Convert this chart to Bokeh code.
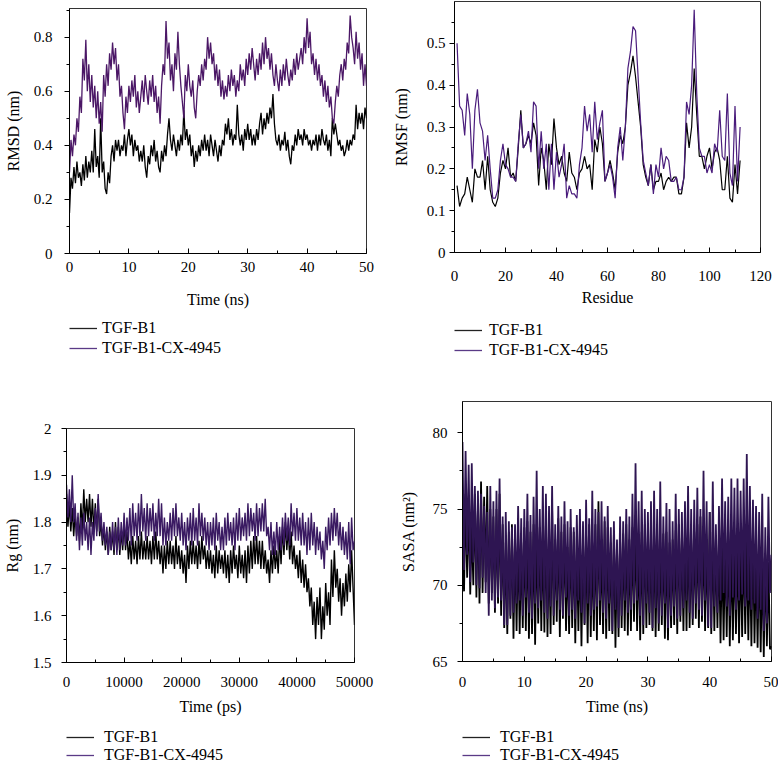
import numpy as np
from bokeh.plotting import figure
from bokeh.layouts import column, row
from bokeh.models import Legend, LegendItem, FixedTicker, Range1d
from bokeh.embed import file_html
from bokeh.resources import INLINE

FONT = "Liberation Serif"
series_names = ["TGF-B1", "TGF-B1-CX-4945"]

# ---------------- RMSD (nm) vs time (ns), sampled every 0.25 ns ----------------
rmsd_apo = [0.15,0.28,0.24,0.32, 0.26,0.34,0.28,0.30, 0.25,0.33,0.27,0.36, 0.28,0.34,0.30,0.38,
            0.30,0.46,0.32,0.36, 0.28,0.50,0.30,0.34, 0.24,0.22,0.30,0.26, 0.36,0.40,0.34,0.42,
            0.38,0.42,0.36,0.40, 0.38,0.44,0.36,0.42, 0.46,0.40,0.44,0.36, 0.42,0.38,0.40,0.34,
            0.38,0.34,0.40,0.32, 0.28,0.36,0.33,0.40, 0.36,0.42,0.34,0.38, 0.32,0.30,0.38,0.34,
            0.40,0.36,0.44,0.50, 0.42,0.38,0.44,0.40, 0.36,0.42,0.38,0.44, 0.40,0.53,0.42,0.46,
            0.40,0.44,0.36,0.40, 0.32,0.38,0.34,0.40, 0.36,0.42,0.38,0.44, 0.38,0.42,0.36,0.44,
            0.40,0.36,0.42,0.38, 0.34,0.40,0.36,0.42, 0.40,0.48,0.44,0.50, 0.42,0.46,0.40,0.44,
            0.42,0.55,0.44,0.40, 0.44,0.38,0.46,0.42, 0.48,0.42,0.46,0.40, 0.44,0.40,0.46,0.42,
            0.48,0.52,0.44,0.50, 0.46,0.52,0.48,0.54, 0.50,0.59,0.48,0.42, 0.40,0.44,0.38,0.42,
            0.40,0.45,0.38,0.42, 0.36,0.33,0.40,0.38, 0.44,0.40,0.46,0.42, 0.44,0.40,0.46,0.42,
            0.44,0.40,0.42,0.38, 0.42,0.40,0.44,0.38, 0.44,0.40,0.46,0.42, 0.40,0.44,0.38,0.42,
            0.36,0.50,0.44,0.48, 0.44,0.40,0.42,0.38, 0.40,0.36,0.38,0.42, 0.38,0.42,0.40,0.44,
            0.42,0.55,0.46,0.52, 0.48,0.52,0.46,0.54, 0.50]
rmsd_cx = [0.30,0.42,0.36,0.44, 0.40,0.50,0.45,0.58, 0.52,0.72,0.64,0.79, 0.60,0.70,0.56,0.66,
           0.54,0.62,0.50,0.60, 0.48,0.56,0.45,0.66, 0.58,0.70,0.62,0.74, 0.68,0.78,0.70,0.76,
           0.64,0.70,0.58,0.62, 0.52,0.46,0.58,0.52, 0.62,0.56,0.64,0.58, 0.66,0.54,0.60,0.52,
           0.58,0.64,0.56,0.66, 0.60,0.55,0.64,0.58, 0.66,0.56,0.62,0.52, 0.58,0.48,0.62,0.70,
           0.66,0.86,0.72,0.78, 0.64,0.70,0.60,0.74, 0.68,0.82,0.70,0.62, 0.56,0.50,0.66,0.60,
           0.70,0.62,0.58,0.64, 0.54,0.50,0.60,0.66, 0.62,0.70,0.64,0.72, 0.68,0.80,0.72,0.78,
           0.70,0.74,0.64,0.70, 0.62,0.68,0.58,0.64, 0.57,0.62,0.58,0.66, 0.60,0.68,0.62,0.66,
           0.58,0.64,0.60,0.70, 0.64,0.68,0.62,0.72, 0.66,0.74,0.68,0.76, 0.70,0.64,0.72,0.66,
           0.74,0.68,0.78,0.70, 0.80,0.72,0.76,0.68, 0.74,0.66,0.62,0.70, 0.64,0.60,0.68,0.62,
           0.70,0.64,0.72,0.66, 0.62,0.68,0.64,0.72, 0.66,0.74,0.68,0.72, 0.76,0.70,0.80,0.74,
           0.87,0.76,0.82,0.70, 0.74,0.66,0.72,0.64, 0.70,0.62,0.66,0.58, 0.64,0.56,0.62,0.54,
           0.58,0.50,0.48,0.56, 0.62,0.58,0.66,0.70, 0.64,0.72,0.68,0.78, 0.74,0.88,0.80,0.76,
           0.70,0.82,0.72,0.78, 0.68,0.74,0.62,0.70, 0.62]

# ---------------- RMSF (nm) per residue 1..112 ----------------
rmsf_apo = [0.16,0.11,0.13,0.14,0.18,0.15,0.12,0.20,0.18,0.18,
            0.22,0.15,0.23,0.15,0.12,0.11,0.13,0.19,0.22,0.20,
            0.25,0.18,0.19,0.17,0.25,0.34,0.25,0.26,0.28,0.26,
            0.31,0.28,0.16,0.25,0.22,0.15,0.26,0.21,0.32,0.25,
            0.21,0.23,0.19,0.17,0.24,0.19,0.18,0.15,0.19,0.20,
            0.23,0.20,0.21,0.15,0.27,0.24,0.30,0.26,0.17,0.19,
            0.22,0.19,0.15,0.24,0.28,0.26,0.30,0.40,0.43,0.47,
            0.42,0.36,0.30,0.21,0.18,0.16,0.21,0.15,0.17,0.17,
            0.19,0.15,0.17,0.18,0.17,0.18,0.18,0.14,0.14,0.18,
            0.31,0.25,0.30,0.44,0.33,0.23,0.23,0.20,0.23,0.25,
            0.20,0.24,0.25,0.22,0.15,0.15,0.23,0.13,0.12,0.21,
            0.14,0.22]
rmsf_cx = [0.50,0.35,0.34,0.28,0.38,0.33,0.20,0.34,0.39,0.31,
           0.29,0.22,0.28,0.20,0.13,0.13,0.15,0.22,0.26,0.21,
           0.20,0.18,0.18,0.17,0.26,0.33,0.25,0.26,0.29,0.24,
           0.36,0.35,0.20,0.29,0.20,0.26,0.15,0.26,0.15,0.24,
           0.18,0.21,0.26,0.13,0.16,0.14,0.14,0.13,0.21,0.25,
           0.35,0.29,0.33,0.24,0.36,0.27,0.31,0.34,0.17,0.19,
           0.21,0.18,0.13,0.25,0.30,0.22,0.30,0.44,0.48,0.54,
           0.53,0.42,0.31,0.22,0.19,0.16,0.21,0.14,0.21,0.18,
           0.25,0.20,0.23,0.22,0.17,0.17,0.18,0.15,0.15,0.18,
           0.36,0.33,0.40,0.58,0.38,0.25,0.23,0.23,0.19,0.21,
           0.19,0.26,0.24,0.34,0.23,0.22,0.38,0.19,0.16,0.35,
           0.17,0.30]

# ---------------- Rg (nm) vs time (ps), sampled every 250 ps ----------------
rg_apo = [1.86,1.79,1.84,1.78, 1.83,1.77,1.82,1.77, 1.81,1.76,1.84,1.78, 1.87,1.80,1.85,1.80,
          1.86,1.79,1.85,1.78, 1.84,1.78,1.85,1.77, 1.80,1.75,1.79,1.74, 1.78,1.73,1.79,1.74,
          1.78,1.73,1.80,1.74, 1.79,1.73,1.78,1.74, 1.80,1.74,1.78,1.72, 1.76,1.71,1.77,1.72,
          1.76,1.71,1.77,1.72, 1.78,1.72,1.76,1.72, 1.77,1.72,1.76,1.71, 1.77,1.72,1.78,1.72,
          1.76,1.71,1.75,1.69, 1.75,1.70,1.76,1.71, 1.76,1.71,1.75,1.70, 1.77,1.71,1.75,1.70,
          1.74,1.69,1.73,1.67, 1.75,1.70,1.76,1.71, 1.76,1.71,1.75,1.70, 1.76,1.71,1.77,1.72,
          1.75,1.70,1.74,1.70, 1.74,1.69,1.73,1.68, 1.75,1.69,1.74,1.70, 1.73,1.69,1.74,1.68,
          1.73,1.67,1.74,1.69, 1.75,1.70,1.73,1.68, 1.75,1.69,1.73,1.68, 1.74,1.67,1.75,1.69,
          1.76,1.70,1.77,1.71, 1.77,1.71,1.76,1.70, 1.76,1.70,1.74,1.69, 1.72,1.67,1.74,1.69,
          1.75,1.70,1.74,1.69, 1.77,1.71,1.79,1.73, 1.80,1.74,1.79,1.72, 1.78,1.71,1.75,1.70,
          1.73,1.68,1.74,1.67, 1.72,1.66,1.71,1.65, 1.68,1.62,1.66,1.58, 1.63,1.55,1.64,1.58,
          1.66,1.55,1.62,1.57, 1.67,1.60,1.65,1.58, 1.72,1.64,1.74,1.66, 1.70,1.63,1.68,1.60,
          1.67,1.62,1.69,1.63, 1.71,1.65,1.74,1.66, 1.58]
rg_cx = [1.88,1.81,1.87,1.80, 1.90,1.80,1.84,1.76, 1.82,1.74,1.81,1.75, 1.82,1.76,1.80,1.74,
         1.81,1.73,1.80,1.76, 1.83,1.77,1.86,1.78, 1.82,1.76,1.80,1.75, 1.79,1.73,1.78,1.74,
         1.80,1.74,1.79,1.73, 1.81,1.74,1.80,1.75, 1.82,1.75,1.81,1.76, 1.83,1.75,1.84,1.77,
         1.82,1.76,1.84,1.77, 1.86,1.78,1.83,1.76, 1.84,1.77,1.83,1.78, 1.84,1.76,1.82,1.77,
         1.85,1.77,1.84,1.75, 1.81,1.75,1.80,1.76, 1.82,1.76,1.83,1.77, 1.84,1.77,1.81,1.76,
         1.82,1.75,1.80,1.74, 1.81,1.76,1.82,1.75, 1.83,1.76,1.81,1.75, 1.84,1.77,1.82,1.76,
         1.81,1.75,1.80,1.74, 1.80,1.75,1.81,1.74, 1.82,1.76,1.80,1.74, 1.79,1.74,1.81,1.75,
         1.82,1.76,1.80,1.75, 1.81,1.74,1.82,1.76, 1.83,1.76,1.81,1.77, 1.82,1.76,1.84,1.77,
         1.83,1.78,1.82,1.76, 1.84,1.77,1.83,1.78, 1.84,1.78,1.85,1.77, 1.79,1.74,1.80,1.73,
         1.78,1.73,1.80,1.74, 1.79,1.74,1.81,1.75, 1.82,1.76,1.81,1.75, 1.84,1.77,1.82,1.76,
         1.83,1.76,1.81,1.75, 1.82,1.75,1.80,1.73, 1.81,1.74,1.82,1.75, 1.80,1.73,1.79,1.74,
         1.78,1.72,1.76,1.70, 1.79,1.74,1.81,1.75, 1.82,1.76,1.83,1.77, 1.82,1.75,1.80,1.74,
         1.79,1.73,1.78,1.72, 1.80,1.71,1.81,1.74, 1.76]

# ---------------- SASA (nm^2) vs time (ns), sampled every 0.25 ns ----------------
sasa_apo = [72.0,69.6,76.0,70.5, 75.5,69.4,74.0,70.0, 76.0,69.2,75.2,68.8, 76.8,69.5,75.8,70.2,
            76.5,68.8,75.0,69.5, 74.5,68.2,75.0,68.8, 76.0,68.0,74.0,67.2, 72.8,66.8,73.5,67.8,
            74.0,66.5,73.2,67.0, 73.5,66.8,72.8,67.2, 73.8,67.0,74.2,66.5, 73.5,66.8,74.0,66.1,
            74.0,67.5,73.8,67.0, 73.5,66.9,74.2,66.6, 72.8,66.8,75.0,67.4, 73.0,67.6,74.4,66.6,
            73.5,67.8,74.0,67.0, 72.5,66.8,73.8,67.2, 73.5,66.2,73.2,67.0, 72.8,66.0,73.0,67.4,
            73.4,66.2,74.0,66.6, 72.8,67.0,74.0,66.4, 75.5,67.4,73.0,66.8, 74.2,66.5,73.8,67.0,
            72.8,66.8,73.5,65.9, 72.5,66.6,73.0,67.2, 73.4,67.0,74.0,66.7, 73.0,67.0,73.8,67.6,
            74.6,67.0,73.0,66.4, 73.5,66.8,74.0,67.2, 73.0,67.4,72.8,67.0, 73.5,66.6,73.0,67.0,
            72.8,67.4,73.4,66.5, 73.5,66.4,72.8,67.2, 73.0,67.4,73.6,66.8, 74.0,67.6,73.2,67.0,
            73.4,67.0,73.8,67.2, 73.0,67.4,73.5,67.8, 74.0,67.2,74.5,67.6, 73.8,67.0,73.0,67.2,
            74.8,66.8,73.5,67.0, 73.2,67.2,73.0,66.2, 72.8,66.4,73.0,66.6, 73.5,66.0,72.8,66.4,
            73.0,66.8,73.2,66.2, 72.8,66.6,73.4,66.8, 73.0,66.4,72.5,66.0, 73.4,66.2,72.0,65.9,
            72.5,65.6,71.8,65.3, 72.0,66.0,71.5,65.8, 66.0]
sasa_cx = [79.4,71.0,78.8,72.0, 77.9,70.2,78.0,71.5, 76.5,70.0,76.2,69.8, 76.0,70.5,75.2,69.5,
           74.8,68.0,76.5,69.0, 75.5,68.5,76.2,69.2, 77.0,69.0,74.5,67.4, 74.8,67.4,74.2,68.0,
           73.8,68.2,74.0,68.8, 75.2,69.0,74.4,68.0, 75.0,69.2,76.0,68.2, 74.6,67.8,75.8,68.8,
           77.5,68.5,75.0,69.0, 76.5,68.2,76.0,67.8, 75.2,68.6,76.5,68.0, 74.0,69.0,75.2,68.4,
           74.5,68.0,75.5,69.2, 74.2,68.0,75.0,68.4, 73.8,67.8,74.6,69.0, 75.0,68.2,74.2,67.5,
           75.6,68.8,74.4,68.0, 76.2,68.4,75.0,68.6, 74.8,69.0,75.5,68.2, 74.5,67.8,75.2,68.8,
           73.8,67.0,74.2,68.4, 73.0,67.2,74.5,68.0, 74.2,69.0,75.0,68.2, 74.5,68.4,76.0,68.8,
           78.0,69.0,75.5,68.0, 76.2,67.4,75.0,68.8, 74.8,68.2,75.5,67.2, 76.2,68.5,75.0,67.5,
           76.8,68.0,74.5,68.8, 75.4,67.2,75.0,68.0, 74.2,68.6,76.0,67.8, 75.0,68.0,74.8,68.5,
           75.5,69.0,76.5,68.2, 75.0,67.8,75.6,68.8, 76.4,68.4,75.0,68.0, 77.5,69.0,75.5,67.3,
           74.8,67.2,76.8,68.6, 74.0,68.2,75.2,69.0, 77.0,69.5,75.5,68.6, 75.8,68.0,77.0,69.2,
           76.4,68.4,77.0,69.0, 76.2,69.4,77.0,68.6, 78.6,69.0,76.5,68.4, 75.6,68.8,75.2,67.8,
           74.8,68.4,76.0,67.0, 73.8,67.5,75.8,69.5, 72.0]

# ---------------- axis ticks ----------------
rmsd_xt, rmsd_xm = [0, 10, 20, 30, 40, 50], [5, 15, 25, 35, 45]
rmsd_yt, rmsd_ym = [0, 0.2, 0.4, 0.6, 0.8], [0.1, 0.3, 0.5, 0.7, 0.9]
rmsf_xt, rmsf_xm = [0, 20, 40, 60, 80, 100, 120], [10, 30, 50, 70, 90, 110]
rmsf_yt, rmsf_ym = [0, 0.1, 0.2, 0.3, 0.4, 0.5], [0.05, 0.15, 0.25, 0.35, 0.45, 0.55]
rg_xt, rg_xm = [0, 10000, 20000, 30000, 40000, 50000], [5000, 15000, 25000, 35000, 45000]
rg_yt, rg_ym = [1.5, 1.6, 1.7, 1.8, 1.9, 2.0], [1.55, 1.65, 1.75, 1.85, 1.95]
sasa_xt, sasa_xm = [0, 10, 20, 30, 40, 50], [5, 15, 25, 35, 45]
sasa_yt, sasa_ym = [65, 70, 75, 80], [67.5, 72.5, 77.5]

BLACK = "#000000"


def panel(w, h, bl, br, bt, bb, xr, yr, xt, xm, yt, ym, xlab, ylab,
          yover, ystand, ylabstand, xstand, xlabstand):
    p = figure(width=w, height=h, x_range=Range1d(*xr), y_range=Range1d(*yr),
               output_backend="svg", toolbar_location=None,
               min_border_left=bl, min_border_right=br,
               min_border_top=bt, min_border_bottom=bb,
               background_fill_color="white", border_fill_color="white")
    p.xgrid.visible = False
    p.ygrid.visible = False
    p.outline_line_color = "#333333"
    p.outline_line_width = 1
    p.xaxis.ticker = FixedTicker(ticks=xt, minor_ticks=xm)
    p.yaxis.ticker = FixedTicker(ticks=yt, minor_ticks=ym)
    p.xaxis.axis_label = xlab
    p.yaxis.axis_label = ylab
    p.yaxis.major_label_overrides = yover
    p.xaxis.major_label_overrides = {0: "0"}
    for ax in (p.xaxis[0], p.yaxis[0]):
        ax.axis_line_color = BLACK
        ax.axis_line_width = 1
        ax.major_tick_line_color = BLACK
        ax.minor_tick_line_color = BLACK
        ax.axis_label_text_font = FONT
        ax.axis_label_text_font_style = "normal"
        ax.axis_label_text_font_size = "16px"
        ax.axis_label_text_color = BLACK
        ax.major_label_text_font = FONT
        ax.major_label_text_font_size = "15px"
        ax.major_label_text_color = BLACK
    xa, ya = p.xaxis[0], p.yaxis[0]
    xa.major_tick_in, xa.major_tick_out = 5, 0
    xa.minor_tick_in, xa.minor_tick_out = 3, 0
    ya.major_tick_in, ya.major_tick_out = 0, 5
    ya.minor_tick_in, ya.minor_tick_out = 0, 3
    ya.major_label_standoff = ystand
    ya.axis_label_standoff = ylabstand
    xa.major_label_standoff = xstand
    xa.axis_label_standoff = xlabstand
    return p


def legend_fig(w, h, left, top, series, colors, widths, standoff, lh):
    """A strip under a panel that holds only its legend; the series are drawn
    outside the strip's visible ranges so only the legend entries show."""
    lf = figure(width=w, height=h, x_range=Range1d(-3, -2), y_range=Range1d(-3, -2),
                output_backend="svg", toolbar_location=None,
                x_axis_type=None, y_axis_type=None,
                min_border_left=left, min_border_right=0, min_border_top=top,
                min_border_bottom=0, outline_line_color=None,
                background_fill_color="white", border_fill_color="white")
    lf.xgrid.visible = False
    lf.ygrid.visible = False
    rs = [lf.line(x=sx, y=sy, line_color=c, line_width=lw)
          for (sx, sy), c, lw in zip(series, colors, widths)]
    leg = Legend(items=[LegendItem(label=n, renderers=[r]) for n, r in zip(series_names, rs)],
                 location="top_left", orientation="vertical",
                 border_line_alpha=0, background_fill_alpha=0,
                 padding=0, margin=0, spacing=0,
                 label_height=lh, glyph_height=lh, glyph_width=28,
                 label_standoff=standoff, label_text_font=FONT,
                 label_text_font_size="16px", label_text_color=BLACK)
    lf.add_layout(leg)
    return lf


C1, C2, C3, C4 = "#4b1766", "#4a1c7c", "#3a1a62", "#2e1552"
LEG_PURPLE = "#5a3a86"
LEG_BLACK = "#222222"

# Panel A: RMSD
t1a = np.linspace(0, 50, len(rmsd_apo))
t1b = np.linspace(0, 50, len(rmsd_cx))
p1 = panel(389, 314, 69, 23, 8, 61, (0, 50), (0, 0.906), rmsd_xt, rmsd_xm, rmsd_yt, rmsd_ym,
           "Time (ns)", "RMSD (nm)", {0: "0"}, 12, 9, 8, 16)
p1.line(t1a, rmsd_apo, line_color=BLACK, line_width=1.3)
p1.line(t1b, rmsd_cx, line_color=C1, line_width=1.3)
l1 = legend_fig(389, 46, 69, 4, [(t1a, rmsd_apo), (t1b, rmsd_cx)], [LEG_BLACK, LEG_PURPLE], [1.3, 1.3], 5, 20)

# Panel B: RMSF
r2a = np.arange(1, len(rmsf_apo) + 1)
r2b = np.arange(1, len(rmsf_cx) + 1)
p2 = panel(389, 314, 65, 18, 1, 62, (0, 120), (0, 0.6), rmsf_xt, rmsf_xm, rmsf_yt, rmsf_ym,
           "Residue", "RMSF (nm)", {0: "0"}, 4, 14, 18, 5)
p2.line(r2a, rmsf_apo, line_color=BLACK, line_width=1.2)
p2.line(r2b, rmsf_cx, line_color=C2, line_width=1.2)
l2 = legend_fig(389, 46, 65, 6, [(r2a, rmsf_apo), (r2b, rmsf_cx)], [LEG_BLACK, LEG_PURPLE], [1.3, 1.3], 7, 20)

# Panel C: Rg
t3a = np.linspace(0, 50000, len(rg_apo))
t3b = np.linspace(0, 50000, len(rg_cx))
p3 = panel(389, 362, 62, 35, 68, 60, (0, 50000), (1.5, 2.0), rg_xt, rg_xm, rg_yt, rg_ym,
           "Time (ps)", "Rg (nm)", {2.0: "2", 2: "2"}, 10, 9, 14, 8)
p3.line(t3a, rg_apo, line_color=BLACK, line_width=1.4)
p3.line(t3b, rg_cx, line_color=C3, line_width=1.4)
l3 = legend_fig(389, 41, 62, 6, [(t3a, rg_apo), (t3b, rg_cx)], [LEG_BLACK, LEG_PURPLE], [1.3, 1.3], 10, 16)

# Panel D: SASA
t4a = np.linspace(0, 50, len(sasa_apo))
t4b = np.linspace(0, 50, len(sasa_cx))
p4 = panel(389, 362, 73, 7, 41, 61, (0, 50), (65, 82.05), sasa_xt, sasa_xm, sasa_yt, sasa_ym,
           "Time (ns)", "SASA (nm²)", {}, 10, 13, 15, 8)
p4.line(t4a, sasa_apo, line_color=BLACK, line_width=1.8)
p4.line(t4b, sasa_cx, line_color=C4, line_width=1.8)
l4 = legend_fig(389, 41, 73, 6, [(t4a, sasa_apo), (t4b, sasa_cx)], [LEG_BLACK, LEG_PURPLE], [1.3, 1.3], 10, 16)

layout = column(row(column(p1, l1), column(p2, l2)), row(column(p3, l3), column(p4, l4)))
open("out.html", "w").write(file_html(layout, INLINE))
